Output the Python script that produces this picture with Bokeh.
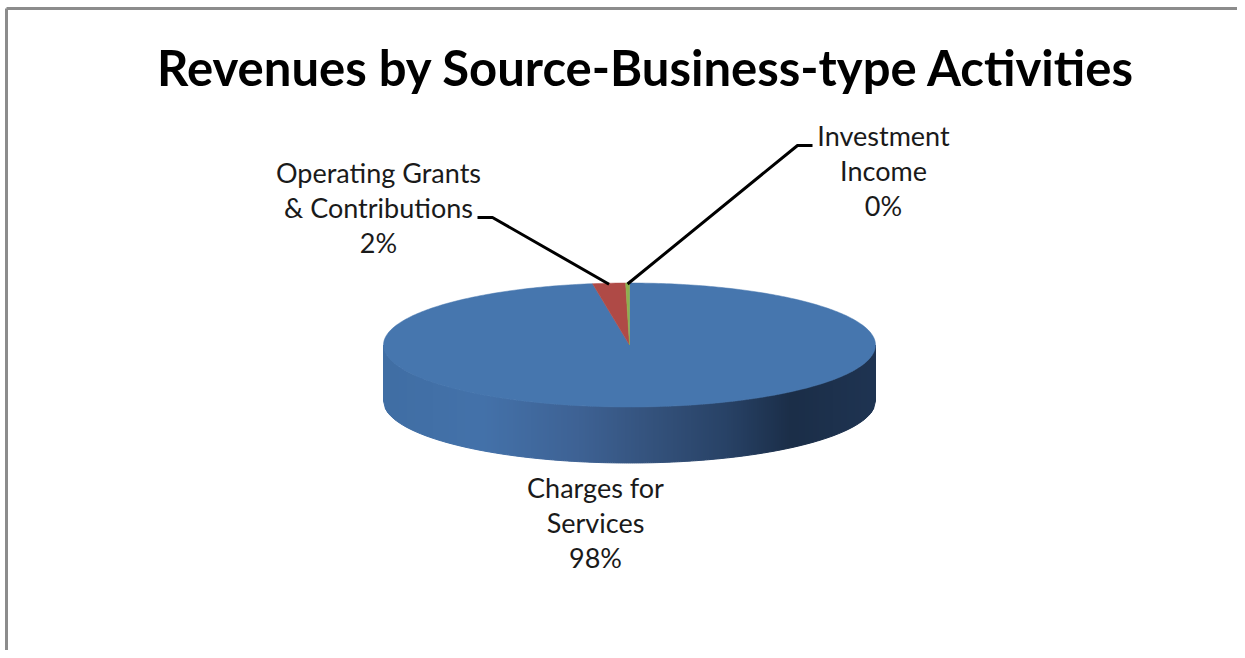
import numpy as np
from bokeh.plotting import figure
from bokeh.models import Range1d
from bokeh.core.properties import value
from bokeh.embed import file_html
from bokeh.resources import INLINE

# ---- data ----
title = "Revenues by Source-Business-type Activities"
categories = ["Charges for Services", "Operating Grants & Contributions", "Investment Income"]
shares = [97.6, 2.15, 0.25]
percent_labels = ["98%", "2%", "0%"]
label_lines = [["Charges for", "Services"], ["Operating Grants", "& Contributions"], ["Investment", "Income"]]

# ---- styling / layout (in picture pixels) ----
W, H = 1237, 650
slice_colors = ["#4676AE", "#AF4A46", "#8DB04E"]
cx, cy, rx, ry, depth = 629.0, 344.5, 246.0, 62.0, 56.0
FONT = "Lato"
LABEL_CENTERS = [(595, 486.5), (378, 171.5), (883, 134.5)]
LINE_STEP = 35
ELBOWS = {1: [(477, 217), (492, 217)], 2: [(812, 145), (797, 145)]}
shade_pos = [0.00, 0.20, 0.40, 0.55, 0.70, 0.83, 1.00]
shade_rgb = [(64, 110, 164), (68, 114, 170), (62, 98, 148), (52, 82, 124), (40, 66, 102), (27, 46, 72), (31, 52, 82)]

p = figure(width=W, height=H, x_range=Range1d(0, W), y_range=Range1d(H, 0),
           output_backend="svg", toolbar_location=None, min_border=0,
           background_fill_color="white", border_fill_color="white")
p.axis.visible = False
p.grid.visible = False
p.outline_line_color = None

# window border (top and left only)
p.line([6, 6], [8, H], line_color="#8C8C8C", line_width=3)
p.line([6, W], [8, 8], line_color="#8C8C8C", line_width=3)

# side wall as thin shaded strips
edges = np.linspace(-1, 1, 247)
xs_w, ys_w, cols = [], [], []
for a, b in zip(edges[:-1], edges[1:]):
    xa, xb = cx + rx * a, cx + rx * b
    ya, yb = cy + ry * np.sqrt(1 - a * a), cy + ry * np.sqrt(1 - b * b)
    xs_w.append([xa, xb, xb, xa])
    ys_w.append([ya, yb, yb + depth, ya + depth])
    t = (a + b + 2) / 4
    rgb = [int(np.interp(t, shade_pos, [c[i] for c in shade_rgb])) for i in range(3)]
    cols.append("#%02x%02x%02x" % tuple(rgb))
p.patches(xs_w, ys_w, fill_color=cols, line_color=cols, line_width=1)

# top surface, slices clockwise from the top; last slice ends at 12 o'clock
def pt(theta):
    return cx + rx * np.sin(theta), cy - ry * np.cos(theta)

fractions = np.array(shares) / sum(shares)
starts = np.concatenate([[0], np.cumsum(fractions)[:-1]]) * 2 * np.pi
ends = np.cumsum(fractions) * 2 * np.pi
mids = (starts + ends) / 2
for s, e, c in zip(starts, ends, slice_colors):
    th = np.linspace(s, e, max(8, int((e - s) * 60)))
    x, y = pt(th)
    p.patch(np.r_[cx, x], np.r_[cy, y], fill_color=c, line_color=c, line_width=0.5)

# leader lines from the slices to their labels
for i, elbow in ELBOWS.items():
    ex, ey = pt(mids[i])
    p.line([elbow[0][0], elbow[1][0], ex], [elbow[0][1], elbow[1][1], ey + 1],
           line_color="black", line_width=3)

# data labels
for i, (lx, ly) in enumerate(LABEL_CENTERS):
    lines = label_lines[i] + [percent_labels[i]]
    p.text([lx] * 3, [ly + LINE_STEP * k for k in range(3)], text=lines,
           text_font=value(FONT), text_font_size="27px", text_color="#1a1a1a",
           text_align="center", text_baseline="middle")

# title
p.text([646], [66], text=[title], text_font=value(FONT), text_font_style="bold",
       text_font_size="49px", text_color="black", text_align="center", text_baseline="middle")

open("out.html", "w").write(file_html(p, INLINE))
